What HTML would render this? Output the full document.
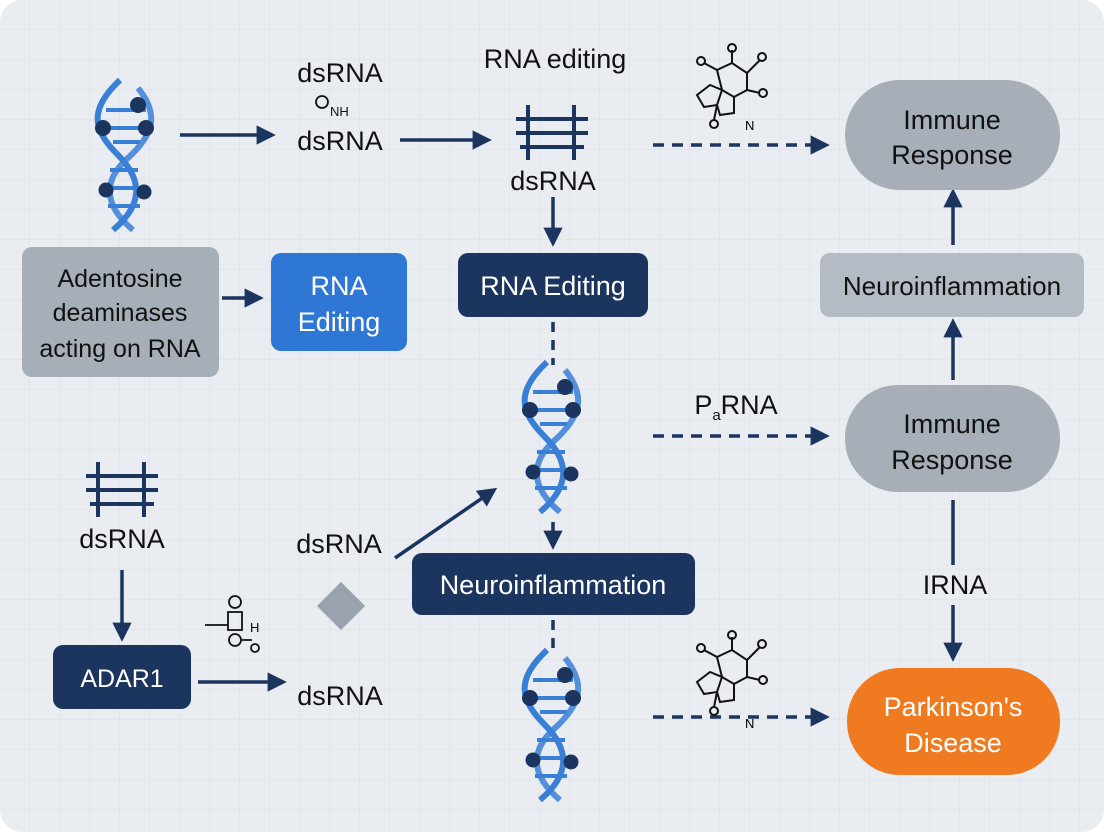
<!DOCTYPE html>
<html><head><style>
html,body{margin:0;padding:0;background:#fff}
svg{display:block}
text{font-family:"Liberation Sans",sans-serif}
</style></head><body>
<svg width="1104" height="832" viewBox="0 0 1104 832" xmlns="http://www.w3.org/2000/svg">
<defs>
<pattern id="g" width="30" height="30" patternUnits="userSpaceOnUse">
<path d="M30 0V30M0 30H30" fill="none" stroke="#d9dee6" stroke-width="1"/>
</pattern>
<marker id="a" viewBox="0 0 10 10" refX="8" refY="5" markerWidth="5.5" markerHeight="5.5" orient="auto"><path d="M0 0L10 5L0 10z" fill="#1b355e"/></marker>
<g id="dna">
<path d="M22 0C-10 30 -5 50 20 75C45 100 45 125 15 150" fill="none" stroke="#3a7fd6" stroke-width="6"/>
<path d="M40 8C62 35 55 55 30 78C5 100 5 125 35 150" fill="none" stroke="#3a7fd6" stroke-width="6" opacity=".85"/>
<g stroke="#3a7fd6" stroke-width="4"><path d="M8 30H48M5 48H50M15 62H42M12 90H40M8 108H45M10 126H42"/></g>
<g fill="#1b355e"><circle cx="40" cy="25" r="8"/><circle cx="5" cy="48" r="8"/><circle cx="48" cy="48" r="8"/><circle cx="8" cy="110" r="7.5"/><circle cx="46" cy="112" r="7.5"/></g>
</g>
<g id="lad" stroke="#1b355e" stroke-width="4" fill="none"><path d="M12 0V55M58 0V55M0 14H72M0 28H72M4 42H68"/></g>
<g id="mol" fill="none" stroke="#111" stroke-width="2">
<path d="M25 25L40 18L55 28L55 45L42 52L30 45z"/><path d="M18 40L30 45L25 60L12 62L5 50z"/><path d="M42 52L42 68L28 70L25 60"/>
<path d="M25 25L12 18M40 18L40 5M55 28L68 15M55 45L68 48M25 60L22 75"/>
<circle cx="9" cy="16" r="4"/><circle cx="40" cy="3" r="4"/><circle cx="70" cy="12" r="4"/><circle cx="71" cy="48" r="4"/><circle cx="22" cy="79" r="4"/>
</g>
</defs>
<rect width="1104" height="832" rx="22" fill="#e9ecf1"/>
<rect width="1104" height="832" rx="22" fill="url(#g)"/>

<use href="#dna" x="98" y="80"/>
<use href="#dna" x="525" y="362"/>
<use href="#dna" x="525" y="650"/>

<g stroke="#1b355e" stroke-width="3.5" fill="none" marker-end="url(#a)">
<path d="M180 135H272"/><path d="M400 140H488"/><path d="M553 197V243"/>
<path d="M222 298H260"/><path d="M122 570V638"/><path d="M198 682H283"/>
<path d="M395 558L494 490"/><path d="M553 522V546"/>
<path d="M953 245V192"/><path d="M953 380V322"/><path d="M953 605V658"/>
</g>
<path d="M953 500V565" stroke="#1b355e" stroke-width="3.5"/>
<g stroke="#1b355e" stroke-width="3.5" fill="none" stroke-dasharray="11 8" marker-end="url(#a)">
<path d="M653 145H826"/><path d="M653 436H826"/><path d="M653 717H826"/>
</g>
<g stroke="#1b355e" stroke-width="3.5" stroke-dasharray="10 8"><path d="M553 322V365"/><path d="M553 620V650"/></g>

<g fill="#111" font-size="27" text-anchor="middle">
<text x="340" y="82">dsRNA</text><text x="340" y="150">dsRNA</text>
<text x="555" y="68">RNA editing</text><text x="553" y="190">dsRNA</text>
<text x="122" y="548">dsRNA</text><text x="339" y="553">dsRNA</text><text x="340" y="705">dsRNA</text>
<text x="955" y="594">IRNA</text>
<text x="736" y="414">P<tspan font-size="15" dy="6">a</tspan><tspan dy="-6">RNA</tspan></text>
</g>
<circle cx="322" cy="102" r="6" fill="none" stroke="#111" stroke-width="1.8"/>
<text x="330" y="116" font-size="13" fill="#111">NH</text>

<use href="#lad" x="516" y="105"/>
<use href="#lad" x="86" y="462"/>
<use href="#mol" x="692" y="45"/>
<use href="#mol" x="692" y="632"/>
<text x="745" y="130" font-size="13">N</text><text x="745" y="728" font-size="13">N</text>
<g fill="none" stroke="#111" stroke-width="1.8"><rect x="228" y="612" width="14" height="18"/><circle cx="235" cy="602" r="6"/><circle cx="235" cy="640" r="6"/><circle cx="255" cy="648" r="4"/><path d="M205 625H228M242 640H252"/></g>
<text x="250" y="632" font-size="13">H</text>
<rect x="324" y="589" width="34" height="34" fill="#9aa2ad" transform="rotate(45 341 606)"/>

<rect x="22" y="247" width="197" height="130" rx="10" fill="#a6aeb8"/>
<g font-size="25" fill="#111" text-anchor="middle"><text x="120" y="287">Adentosine</text><text x="120" y="321">deaminases</text><text x="120" y="357">acting on RNA</text></g>
<rect x="271" y="253" width="136" height="98" rx="10" fill="#2f77d4"/>
<g font-size="27" fill="#fff" text-anchor="middle"><text x="339" y="295">RNA</text><text x="339" y="331">Editing</text></g>
<rect x="458" y="253" width="190" height="64" rx="10" fill="#1b355e"/>
<text x="553" y="295" font-size="27" fill="#fff" text-anchor="middle">RNA Editing</text>
<rect x="412" y="553" width="283" height="62" rx="10" fill="#1b355e"/>
<text x="553" y="594" font-size="27" fill="#fff" text-anchor="middle">Neuroinflammation</text>
<rect x="53" y="645" width="138" height="64" rx="10" fill="#1b355e"/>
<text x="122" y="687" font-size="25" fill="#fff" text-anchor="middle">ADAR1</text>

<rect x="845" y="80" width="215" height="110" rx="55" fill="#a6aeb8"/>
<g font-size="27" fill="#111" text-anchor="middle"><text x="952" y="129">Immune</text><text x="952" y="164">Response</text></g>
<rect x="820" y="253" width="264" height="64" rx="10" fill="#b4bbc4"/>
<text x="952" y="295" font-size="26" fill="#111" text-anchor="middle">Neuroinflammation</text>
<rect x="845" y="385" width="215" height="107" rx="53" fill="#a6aeb8"/>
<g font-size="27" fill="#111" text-anchor="middle"><text x="952" y="433">Immune</text><text x="952" y="469">Response</text></g>
<rect x="847" y="668" width="213" height="107" rx="53" fill="#f07a20"/>
<g font-size="27" fill="#fff" text-anchor="middle"><text x="953" y="716">Parkinson's</text><text x="953" y="752">Disease</text></g>
</svg>
</body></html>
